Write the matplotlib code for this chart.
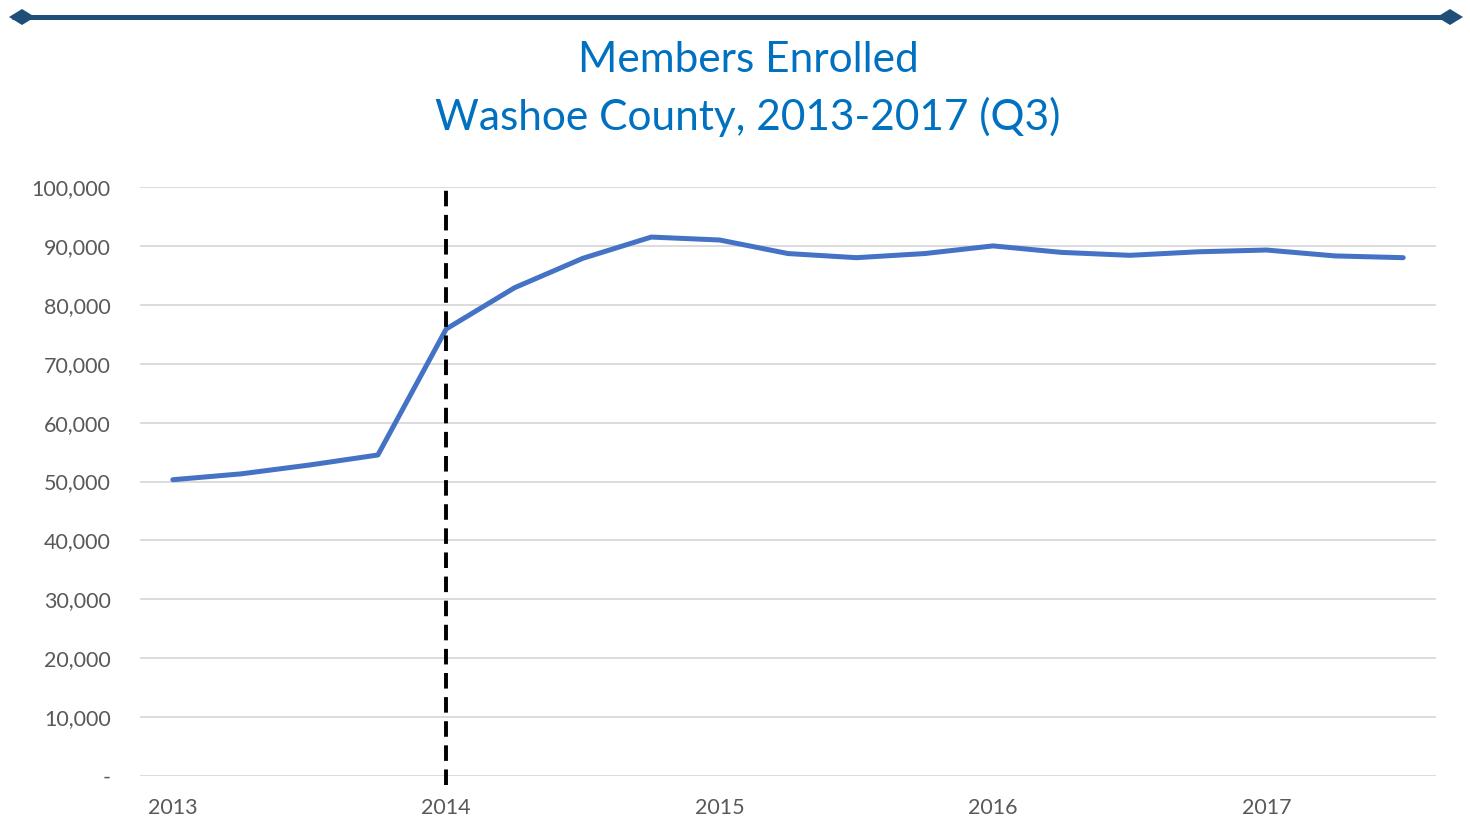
import matplotlib
matplotlib.use("Agg")
import matplotlib.pyplot as plt
from matplotlib.lines import Line2D
from matplotlib.patches import Polygon
from matplotlib.ticker import FuncFormatter

# --- data (quarterly, 2013 Q1 .. 2017 Q3) ---
quarters = ["2013 Q1", "2013 Q2", "2013 Q3", "2013 Q4",
            "2014 Q1", "2014 Q2", "2014 Q3", "2014 Q4",
            "2015 Q1", "2015 Q2", "2015 Q3", "2015 Q4",
            "2016 Q1", "2016 Q2", "2016 Q3", "2016 Q4",
            "2017 Q1", "2017 Q2", "2017 Q3"]
members = [50300, 51300, 52800, 54500,
           75900, 82900, 87900, 91500,
           91000, 88700, 88000, 88700,
           90000, 88900, 88400, 89000,
           89300, 88300, 88000]
year_labels = ["2013", "2014", "2015", "2016", "2017"]
year_ticks = [0, 4, 8, 12, 16]
aca_marker = 4  # 2014 Q1

W, H = 1470, 817
fig = plt.figure(figsize=(W / 100, H / 100), dpi=100)
fig.patch.set_facecolor("white")

# decorative top rule with diamond ends
rule_col = "#1F4E79"
ry = 1 - 17 / H
fig.add_artist(Line2D([12 / W, 1458 / W], [ry, ry], transform=fig.transFigure,
                      color=rule_col, lw=3.6, solid_capstyle="butt"))
for cx in (22, 1450):
    dx, dy = 13 / W, 8 / H
    fig.add_artist(Polygon([(cx / W - dx, ry), (cx / W, ry + dy),
                            (cx / W + dx, ry), (cx / W, ry - dy)],
                           closed=True, transform=fig.transFigure,
                           facecolor=rule_col, edgecolor="none"))

title_font = ["Lato", "DejaVu Sans"]
fig.text(748 / W, 1 - 60 / H, "Members Enrolled", ha="center", va="center",
         fontsize=30.5, color="#0070C0", family=title_font)
fig.text(748 / W, 1 - 117 / H, "Washoe County, 2013-2017 (Q3)", ha="center",
         va="center", fontsize=30.5, color="#0070C0", family=title_font)

ax = fig.add_axes([140 / W, 41 / H, 1296 / W, 589 / H])
x = list(range(len(quarters)))
ax.plot(x, members, color="#4472C4", lw=3.6, solid_joinstyle="round",
        solid_capstyle="round", zorder=3)

ax.set_xlim(-0.48, len(quarters) - 0.52)
ax.set_ylim(0, 100000)
ax.set_yticks(range(0, 100001, 10000))
ax.yaxis.set_major_formatter(
    FuncFormatter(lambda v, p: "-" if v == 0 else f"{int(v):,}"))
ax.set_xticks(year_ticks)
ax.set_xticklabels(year_labels)

ax.grid(axis="y", color="#D9D9D9", lw=1.3)
ax.set_axisbelow(True)
for s in ax.spines.values():
    s.set_visible(False)
ax.tick_params(length=0, labelsize=15.5, labelcolor="#595959")
ax.tick_params(axis="y", pad=21)
ax.tick_params(axis="x", pad=16)
for lbl in ax.get_xticklabels() + ax.get_yticklabels():
    lbl.set_family(["Lato", "DejaVu Sans"])

# dashed marker at start of 2014 enrollment jump
ax.plot([aca_marker, aca_marker], [-1600, 100000], color="black", lw=2.8,
        ls=(0, (4, 2.2)), clip_on=False, zorder=4)

fig.savefig("out.png", dpi=100)
